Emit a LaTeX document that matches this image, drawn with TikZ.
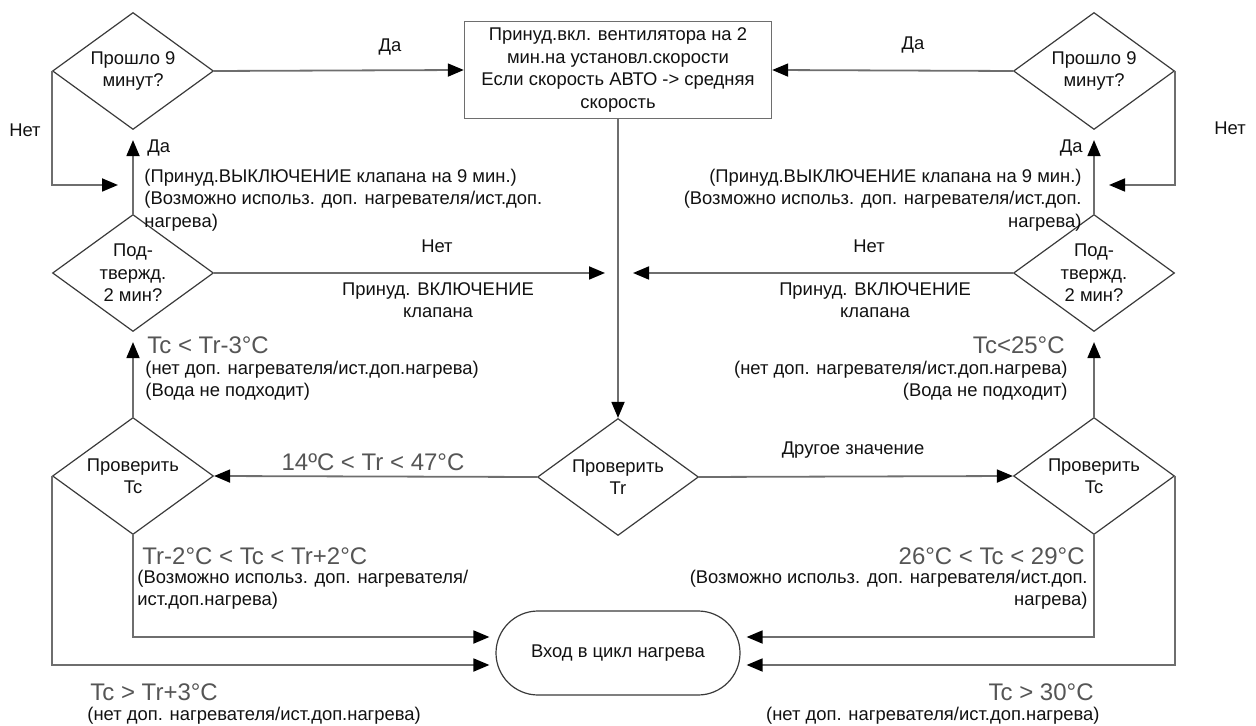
\documentclass[tikz,border=0pt]{standalone}
\usepackage{fontspec}
\setmainfont{Liberation Sans}
\usetikzlibrary{calc,arrows.meta}
\usetikzlibrary{shapes.misc}
\usetikzlibrary{shapes.geometric}
\usetikzlibrary{positioning}
\definecolor{fc-text}{HTML}{111111}
\definecolor{fc-line}{HTML}{6E6E6E}
\definecolor{fc-edge}{HTML}{3A3A3A}
\definecolor{fc-cond}{HTML}{555555}

\begin{document}
\begin{tikzpicture}[x=0.5pt, y=-0.5pt, >={Triangle[length=8pt,width=6.5pt,color=black]},
        lbl/.style={font=\fontsize{9.2}{11.2}\selectfont, text=fc-text, inner sep=0pt},
        cond/.style={font=\fontsize{12}{14}\selectfont, text=fc-cond, inner sep=0pt},
        decision/.style={diamond, aspect=1.4, draw=fc-edge, line width=0.6pt, minimum width=80.5pt, minimum height=58.5pt, inner sep=0pt, align=center, lbl},
        procbox/.style={rectangle, draw=fc-line, line width=0.7pt, minimum width=153.5pt, minimum height=48.5pt, align=center, lbl},
        termbox/.style={rounded rectangle, draw=fc-edge, line width=0.6pt, minimum width=122pt, minimum height=42pt, lbl},
        conn/.style={->, draw=fc-line, line width=0.9pt}]
        \useasboundingbox (0,0) rectangle (1256,726);
        % blocks
        \node[procbox] (fan) at (618,70) {Принуд.вкл. вентилятора на 2\\мин.на установл.скорости\\Если скорость АВТО -> средняя\\скорость};
        \node[decision] (waitL) at (133,71) {Прошло 9\\минут?};
        \node[decision] (waitR) at (1094,71) {Прошло 9\\минут?};
        \node[decision] (confL) at (133,273) {Под-\\твержд.\\2 мин?};
        \node[decision] (confR) at (1094,273) {Под-\\твержд.\\2 мин?};
        \node[decision] (chkL) at (133,476) {Проверить\\Tc};
        \node[decision] (chkR) at (1094,476) {Проверить\\Tc};
        \node[decision] (chkTr) at (618,477) {Проверить\\Tr};
        \node[termbox] (heat) at (618,653) {Вход в цикл нагрева};
        % free ends
        \coordinate (loopL) at (118,185);
        \coordinate (loopR) at (1109,185);
        \coordinate (midL) at (605,273);
        \coordinate (midR) at (633,273);
        % connectors
        \draw[conn] (waitL.east) -- (fan.west);
        \draw[conn] (waitR.west) -- (fan.east);
        \draw[conn] (waitL.west) |- (loopL);
        \draw[conn] (waitR.east) |- (loopR);
        \draw[conn, shorten >=5pt] (confL.north) -- (waitL.south);
        \draw[conn, shorten >=5pt] (confR.north) -- (waitR.south);
        \draw[conn] (confL.east) -- (midL);
        \draw[conn] (confR.west) -- (midR);
        \draw[conn] (fan.south) -- (chkTr.north);
        \draw[conn, shorten >=5pt] (chkL.north) -- (confL.south);
        \draw[conn, shorten >=5pt] (chkR.north) -- (confR.south);
        \draw[conn] (chkTr.west) -- (chkL.east);
        \draw[conn] (chkTr.east) -- (chkR.west);
        \draw[conn, shorten >=3pt] (chkL.south) |- ([yshift=8pt]heat.west);
        \draw[conn, shorten >=3pt] (chkL.west) |- ([yshift=-6pt]heat.west);
        \draw[conn, shorten >=3pt] (chkR.south) |- ([yshift=8pt]heat.east);
        \draw[conn, shorten >=3pt] (chkR.east) |- ([yshift=-6pt]heat.east);
        % labels, left side
        \node[lbl] (yesTopL) at (390,47) {Да};
        \node[lbl] (noLoopL) at (25,130) {Нет};
        \node[lbl, anchor=west] (yesUpL) at (147,148) {Да};
        \node[lbl, anchor=west, align=left] (offL) at (144,200) {(Принуд.ВЫКЛЮЧЕНИЕ клапана на 9 мин.)\\(Возможно использ. доп. нагревателя/ист.доп.\\нагрева)};
        \node[lbl] (noMidL) at (437,246) {Нет};
        \node[lbl, align=center] (onL) at (438,300) {Принуд. ВКЛЮЧЕНИЕ\\клапана};
        \node[cond, anchor=west] (lowL) at (147,345) {Tc < Tr-3°C};
        \node[lbl, anchor=west, align=left] (lowNoteL) at (145,381) {(нет доп. нагревателя/ист.доп.нагрева)\\(Вода не подходит)};
        \node[cond] (rangeTr) at (373,462) {14ºC < Tr < 47°C};
        \node[cond, anchor=west] (okL) at (142,556) {Tr-2°C < Tc < Tr+2°C};
        \node[lbl, anchor=west, align=left] (okNoteL) at (137,590) {(Возможно использ. доп. нагревателя/\\ист.доп.нагрева)};
        \node[cond, anchor=west] (highL) at (90,692) {Tc > Tr+3°C};
        \node[lbl, anchor=west] (highNoteL) at (87,716) {(нет доп. нагревателя/ист.доп.нагрева)};
        % labels, right side
        \node[lbl] (yesTopR) at (913,45) {Да};
        \node[lbl] (noLoopR) at (1230,128) {Нет};
        \node[lbl, anchor=east] (yesUpR) at (1083,148) {Да};
        \node[lbl, anchor=east, align=right] (offR) at (1082,200) {(Принуд.ВЫКЛЮЧЕНИЕ клапана на 9 мин.)\\(Возможно использ. доп. нагревателя/ист.доп.\\нагрева)};
        \node[lbl] (noMidR) at (869,246) {Нет};
        \node[lbl, align=center] (onR) at (875,300) {Принуд. ВКЛЮЧЕНИЕ\\клапана};
        \node[cond, anchor=east] (lowR) at (1065,345) {Tc<25°C};
        \node[lbl, anchor=east, align=right] (lowNoteR) at (1068,381) {(нет доп. нагревателя/ист.доп.нагрева)\\(Вода не подходит)};
        \node[lbl] (otherTr) at (853,450) {Другое значение};
        \node[cond, anchor=east] (okR) at (1085,556) {26°C < Tc < 29°C};
        \node[lbl, anchor=east, align=right] (okNoteR) at (1088,590) {(Возможно использ. доп. нагревателя/ист.доп.\\нагрева)};
        \node[cond, anchor=east] (highR) at (1094,692) {Tc > 30°C};
        \node[lbl, anchor=east] (highNoteR) at (1100,716) {(нет доп. нагревателя/ист.доп.нагрева)};
    \end{tikzpicture}
\end{document}
